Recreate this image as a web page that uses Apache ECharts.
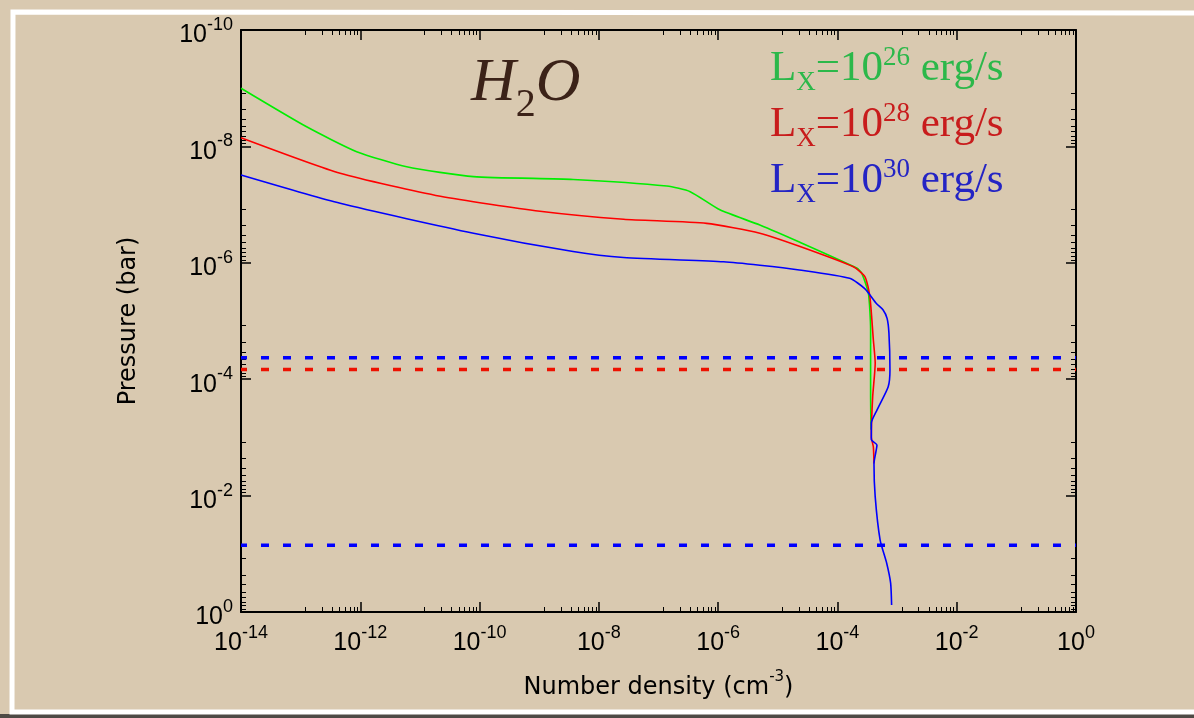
<!DOCTYPE html>
<html>
<head>
<meta charset="utf-8">
<title>H2O number density</title>
<script src="https://cdn.jsdelivr.net/npm/echarts@6/dist/echarts.min.js"></script>
<style>
  html, body { margin: 0; padding: 0; background: #d9c9b0; }
  #main { width: 1194px; height: 718px; }
</style>
</head>
<body>
<div id="main"></div>
<script>
// [number density (cm^-3), pressure (bar)]
const greenLine = [
  [1e-14, 1.0e-9], [1.26e-13, 4.6e-9], [8.7e-13, 1.23e-8], [6.0e-12, 2.24e-8],
  [7.9e-11, 3.3e-8], [3.7e-9, 3.7e-8], [1.38e-7, 4.8e-8], [3.4e-7, 6.0e-8],
  [1.07e-6, 1.23e-7], [5.0e-6, 2.24e-7], [2.3e-5, 4.4e-7], [2.1e-4, 1.23e-6],
  [2.55e-4, 1.5e-6], [3.3e-4, 3.3e-6], [3.6e-4, 1.4e-5], [3.6e-4, 2.0e-4],
  [3.65e-4, 7.4e-4]
];
const redLine = [
  [1e-14, 7.1e-9], [4.6e-13, 2.9e-8], [2.2e-11, 7.2e-8], [1.03e-9, 1.3e-7],
  [2.6e-8, 1.78e-7], [6.4e-7, 2.1e-7], [5.0e-6, 3.1e-7], [2.3e-5, 5.2e-7],
  [1.85e-4, 1.17e-6], [2.9e-4, 1.74e-6], [3.5e-4, 3.8e-6], [4.0e-4, 2.1e-5],
  [4.3e-4, 5.3e-5], [3.9e-4, 2.0e-4], [3.7e-4, 9.8e-4], [4.0e-4, 1.45e-3],
  [4.1e-4, 2.8e-3]
];
const blueLine = [
  [1e-14, 3.1e-8], [4.6e-13, 9.5e-8], [7.9e-11, 3.1e-7], [3.7e-9, 6.4e-7],
  [2.6e-8, 8.1e-7], [1.23e-6, 9.6e-7], [5.0e-6, 1.1e-6], [2.3e-5, 1.33e-6],
  [1.6e-4, 1.85e-6], [2.9e-4, 2.8e-6], [4.5e-4, 5.0e-6], [5.8e-4, 6.4e-6],
  [6.8e-4, 9.0e-6], [7.3e-4, 1.6e-5], [7.6e-4, 6.9e-5], [7.1e-4, 1.35e-4],
  [4.6e-4, 3.4e-4], [3.7e-4, 5.7e-4], [3.7e-4, 1.1e-3], [4.6e-4, 1.35e-3],
  [4.1e-4, 2.8e-3], [4.3e-4, 1.05e-2], [5.2e-4, 5.8e-2], [6.7e-4, 0.145],
  [7.8e-4, 0.32], [8.1e-4, 0.76]
];
// horizontal dashed levels (bar)
const blueLevels = [4.3e-5, 7.1e-2];
const redLevels = [6.8e-5];
const xRange = [1e-14, 1];
const yRange = [1e-10, 1];
const legendLabels = [
  { exp: '26', color: '#2cb84a' },
  { exp: '28', color: '#c81c1c' },
  { exp: '30', color: '#2424c4' }
];

const myEChart = echarts.init(document.getElementById('main'));

function powLabel(v) {
  return '{b|10}{s|' + Math.round(Math.log10(v)) + '}';
}
const labelRich = {
  b: { fontSize: 25, fontFamily: 'Liberation Sans', color: '#000', lineHeight: 32, verticalAlign: 'bottom' },
  s: { fontSize: 18, fontFamily: 'Liberation Sans', color: '#000', lineHeight: 18, verticalAlign: 'top' }
};

function levelSeries(levels, color) {
  return levels.map(function (p) {
    return {
      type: 'line',
      data: [[xRange[0], p], [xRange[1], p]],
      showSymbol: false,
      silent: true,
      lineStyle: { color: color, width: 3.5, type: [8, 14], dashOffset: 2 },
      z: 1
    };
  });
}

function curve(data, color) {
  return {
    type: 'line',
    data: data,
    showSymbol: false,
    smooth: 0.2,
    lineStyle: { color: color, width: 1.6 },
    z: 3
  };
}

const baseX = {
  type: 'log',
  min: xRange[0],
  max: xRange[1],
  interval: 2,
  axisLine: { show: true, lineStyle: { color: '#000', width: 2 } },
  axisTick: { show: true, inside: true, length: 10, lineStyle: { color: '#000', width: 1.5 } },
  minorTick: { show: true, splitNumber: 9, length: 5, lineStyle: { color: '#000', width: 1 } },
  splitLine: { show: false }
};
const baseY = {
  type: 'log',
  min: yRange[0],
  max: yRange[1],
  interval: 2,
  inverse: true,
  axisLine: { show: true, lineStyle: { color: '#000', width: 2 } },
  axisTick: { show: true, inside: true, length: 10, lineStyle: { color: '#000', width: 1.5 } },
  minorTick: { show: true, splitNumber: 9, length: 5, lineStyle: { color: '#000', width: 1 } },
  splitLine: { show: false }
};

const titles = legendLabels.map(function (l, i) {
  return {
    text: '{a|L}{x|X}{a|=10}{s|' + l.exp + '}{a| erg/s}',
    left: 765,
    top: 39 + i * 56,
    textStyle: {
      rich: {
        a: { fontSize: 43, fontWeight: 'normal', fontFamily: 'Liberation Serif', color: l.color, lineHeight: 46, verticalAlign: 'bottom' },
        x: { fontSize: 27, fontWeight: 'normal', fontFamily: 'Liberation Serif', color: l.color, lineHeight: 46, verticalAlign: 'bottom', padding: [0, 0, -6, 0] },
        s: { fontSize: 27, fontWeight: 'normal', fontFamily: 'Liberation Serif', color: l.color, lineHeight: 26, verticalAlign: 'top' }
      }
    }
  };
});
titles.push({
  text: '{h|H}{u|2}{h|O}',
  left: 466,
  top: 48,
  textStyle: {
    rich: {
      h: { fontSize: 62, fontWeight: 'normal', fontFamily: 'Liberation Serif', fontStyle: 'italic', color: '#3b2218', lineHeight: 70, verticalAlign: 'top' },
      u: { fontSize: 40, fontWeight: 'normal', fontFamily: 'Liberation Serif', color: '#3b2218', lineHeight: 72, verticalAlign: 'bottom' }
    }
  }
});

const option = {
  backgroundColor: 'transparent',
  animation: false,
  title: titles,
  grid: { left: 241, right: 118, top: 30, bottom: 106, containLabel: false },
  xAxis: [
    Object.assign({}, baseX, {
      position: 'bottom',
      name: '{n|Number density (cm}{s|-3}{n|)}',
      nameLocation: 'middle',
      nameGap: 58,
      nameTextStyle: {
        rich: {
          n: { fontSize: 24, fontFamily: 'DejaVu Sans', color: '#000', lineHeight: 30, verticalAlign: 'bottom' },
          s: { fontSize: 15, fontFamily: 'DejaVu Sans', color: '#000', lineHeight: 15, verticalAlign: 'top' }
        }
      },
      axisLabel: { margin: 12, formatter: powLabel, rich: labelRich }
    }),
    Object.assign({}, baseX, { position: 'top', axisLabel: { show: false } })
  ],
  yAxis: [
    Object.assign({}, baseY, {
      position: 'left',
      name: 'Pressure (bar)',
      nameLocation: 'middle',
      nameGap: 100,
      nameTextStyle: { fontSize: 24, fontFamily: 'DejaVu Sans', color: '#000' },
      axisLabel: { margin: 8, formatter: powLabel, rich: labelRich, padding: [4, 0, 0, 0] }
    }),
    Object.assign({}, baseY, { position: 'right', axisLabel: { show: false } })
  ],
  graphic: [
    { type: 'rect', shape: { x: 0, y: 714, width: 1194, height: 4 }, style: { fill: '#4e4a45' }, silent: true },
    {
      type: 'polyline',
      shape: { points: [[1194, 13], [13, 12], [12, 712], [1194, 712]] },
      style: { stroke: '#ffffff', lineWidth: 5, fill: null },
      silent: true
    }
  ],
  series: [].concat(
    levelSeries(blueLevels, '#0000ff'),
    levelSeries(redLevels, '#ee1100'),
    [
      curve(greenLine, '#00ee00'),
      curve(redLine, '#ff0000'),
      curve(blueLine, '#0000ff')
    ]
  )
};
myEChart.setOption(option);
window.addEventListener('resize', function () {
  myEChart.resize();
});
</script>
</body>
</html>
